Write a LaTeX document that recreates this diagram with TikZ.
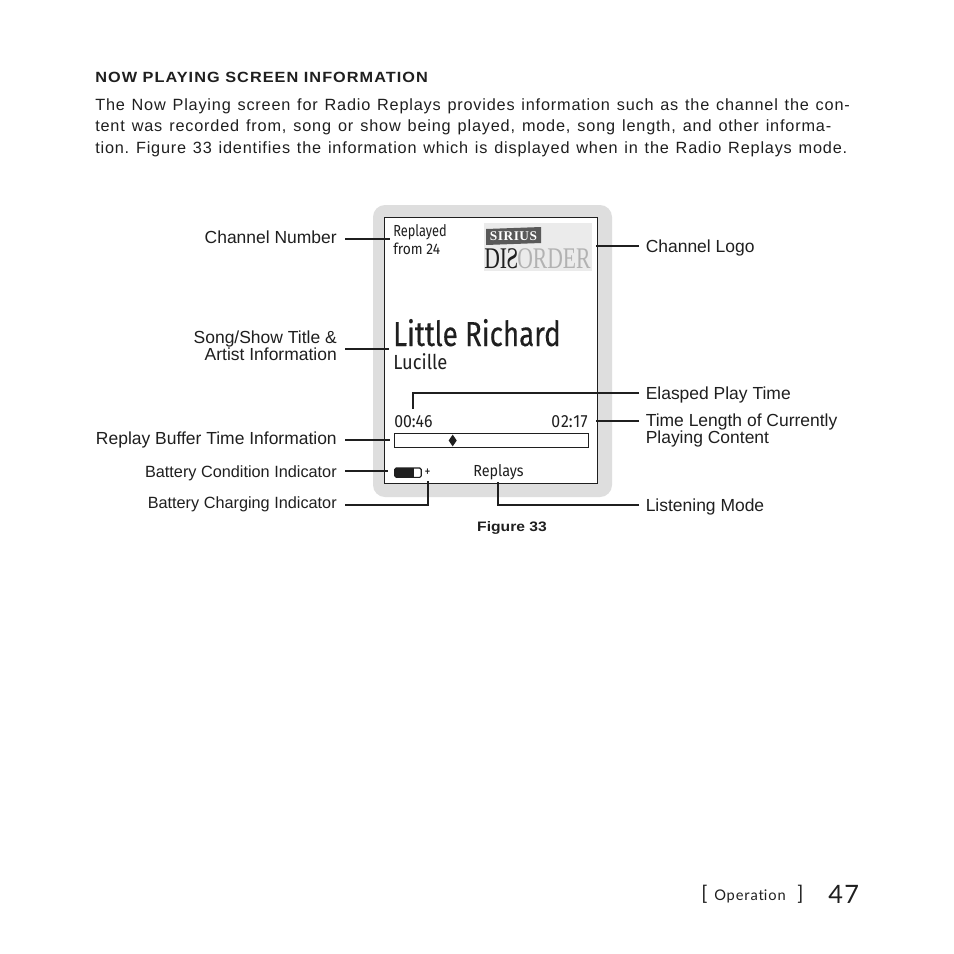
\documentclass[tikz,border=0pt]{standalone}
\usepackage{fontspec}
\setmainfont{Liberation Sans}
\newfontfamily\bodyf[LetterSpace=5]{Liberation Sans}
\newfontfamily\headf[LetterSpace=7,FakeStretch=1.1]{Liberation Sans}
\newfontfamily\figf[FakeStretch=1.14]{Liberation Sans}
\newfontfamily\pagef[LetterSpace=6]{Lato}
\newfontfamily\screenf[FakeStretch=0.8]{Fira Sans}
\newfontfamily\screenw[FakeStretch=0.9]{Fira Sans}
\newfontfamily\titlef[FakeStretch=0.8,FakeBold=0.25]{Fira Sans}
\newfontfamily\logof[LetterSpace=4]{Liberation Serif}
\newfontfamily\logon[FakeStretch=0.72]{Liberation Serif}
\usetikzlibrary{shapes.geometric}
\definecolor{bezel}{gray}{0.87}
\definecolor{ink}{gray}{0.12}
\tikzset{
  x=0.75pt,y=-0.75pt,
  lead/.style={draw=ink,line width=1.3pt},
  leftlabel/.style={anchor=base east,inner sep=0,align=right,font=\fontsize{13.1}{13.1}\selectfont,text=ink},
  leftsmall/.style={anchor=base east,inner sep=0,align=right,font=\fontsize{12.2}{12.2}\selectfont,text=ink},
  rightlabel/.style={anchor=base west,inner sep=0,align=left,font=\fontsize{13.1}{13.1}\selectfont,text=ink},
  bodyline/.style={anchor=base west,inner sep=0,font=\bodyf\fontsize{12.2}{12.2}\selectfont\frenchspacing,text=ink},
  screentext/.style={inner sep=0,text=ink},
}
\begin{document}
\begin{tikzpicture}
\useasboundingbox (0,0) rectangle (954,954);
\fill[white] (0,0) rectangle (954,954);
% page text
\node[anchor=base west,inner sep=0,font=\headf\bfseries\fontsize{11.1}{11.1}\selectfont,text=ink] (head) at (95,82) {NOW PLAYING SCREEN INFORMATION};
\node[bodyline] (l1) at (95,110) {\hbox to 566pt{The Now Playing screen for Radio Replays provides information such as the channel the con-}};
\node[bodyline] (l2) at (95,131.5) {\hbox to 552pt{tent was recorded from, song or show being played, mode, song length, and other informa-}};
\node[bodyline] (l3) at (95,153.5) {\hbox to 564pt{tion. Figure 33 identifies the information which is displayed when in the Radio Replays mode.}};
% device
\fill[bezel,rounded corners=9pt] (373,205) rectangle (612,497);
\node[draw=ink,fill=white,line width=0.6pt,inner sep=0,minimum width=159.5pt,minimum height=199.5pt] (screen) at (491,350) {};
% logo
\fill[gray!16] (484,223) rectangle (592,271);
\fill[gray!70!black] (486,229) -- (541,227) -- (541,243) -- (486,245) -- cycle;
\node[screentext,text=white,font=\logof\bfseries\fontsize{10}{10}\selectfont] (sirius) at (513.5,236.5) {SIRIUS};
\node[inner sep=0,anchor=base west,font=\logon\fontsize{22.5}{22.5}\selectfont,text=ink] (dis) at (484,268) {DI\kern-0.5pt\scalebox{-1}[1]{S}};
\node[inner sep=0,anchor=base west,font=\logon\fontsize{22.5}{22.5}\selectfont,text=gray!60] (order) at (517,268) {ORDER};
% screen text
\node[screentext,anchor=base west,font=\screenf\fontsize{12}{12}\selectfont] (rep) at (393,236) {Replayed};
\node[screentext,anchor=base west,font=\screenw\fontsize{11.5}{11.5}\selectfont] (from) at (393,254) {from 24};
\node[screentext,anchor=base west,font=\titlef\fontsize{26}{26}\selectfont] (title) at (393,346) {Little Richard};
\node[screentext,anchor=base west,font=\screenw\fontsize{15.3}{15.3}\selectfont] (luc) at (393,369) {Lucille};
\node[screentext,anchor=base west,font=\screenw\fontsize{13.2}{13.2}\selectfont] (t1) at (394,427) {00:46};
\node[screentext,anchor=base east,font=\screenw\fontsize{13.2}{13.2}\selectfont] (t2) at (588,427) {0\kern0.6pt2:\kern0.4pt1\kern0.4pt7};
\node[draw=ink,fill=white,line width=0.6pt,inner sep=0,minimum width=145.5pt,minimum height=10.5pt] (bar) at (491.5,440.5) {};
\node[diamond,fill=ink,inner sep=0,minimum width=6.2pt,minimum height=9pt,aspect=1] (dia) at (452.7,440.5) {};
% battery
\node[draw=ink,fill=white,line width=0.9pt,inner sep=0,minimum width=20pt,minimum height=7pt,rounded corners=1.2pt] (batt) at (408,472.7) {};
\fill[ink] (394.5,468) rectangle (414,477.4);
\node[screentext,font=\screenf\fontsize{11}{11}\selectfont] (plus) at (427.5,473) {+};
\node[screentext,anchor=base west,font=\screenw\fontsize{12}{12}\selectfont] (mode) at (473,476) {Replays};
% labels
\node[leftlabel] (n1) at (337,243) {Channel Number};
\node[leftlabel] (n2a) at (337,343) {Song/Show Title \&};
\node[leftlabel] (n2b) at (337,360) {Artist Information};
\node[leftlabel] (n3) at (337,444) {Replay Buffer Time Information};
\node[leftsmall] (n4) at (337,477) {Battery Condition Indicator};
\node[leftsmall] (n5) at (337,508) {Battery Charging Indicator};
\node[rightlabel] (r1) at (645.5,252) {Channel Logo};
\node[rightlabel] (r2) at (645.5,399) {Elasped Play Time};
\node[rightlabel] (r3a) at (645.5,426) {Time Length of Currently};
\node[rightlabel] (r3b) at (645.5,443) {Playing Content};
\node[rightlabel] (r4) at (645.5,511) {Listening Mode};
\node[inner sep=0,font=\figf\bfseries\fontsize{10.3}{10.3}\selectfont,text=ink] (fig) at (512,528) {Figure 33};
% page number
\node[inner sep=0,anchor=base west,font=\pagef\fontsize{15}{15}\selectfont,text=ink] (bo) at (701,900) {[};
\node[inner sep=0,anchor=base west,font=\pagef\fontsize{11}{11}\selectfont,text=ink] (op) at (714,900) {Operat\kern0pt ion};
\node[inner sep=0,anchor=base west,font=\pagef\fontsize{15}{15}\selectfont,text=ink] (bc) at (797,900) {]};
\node[inner sep=0,anchor=base west,font=\pagef\fontsize{19}{19}\selectfont,text=ink] (num) at (828,903) {47};
% leader end points
\coordinate (a1) at (345,239); \coordinate (b1) at (390,239);
\coordinate (a2) at (345,349); \coordinate (b2) at (389,349);
\coordinate (a3) at (345,440); \coordinate (b3) at (390,440);
\coordinate (a4) at (345,471); \coordinate (b4) at (388,471);
\coordinate (a5) at (345,505); \coordinate (c5) at (428,505); \coordinate (b5) at (428,481);
\coordinate (a6) at (639,246); \coordinate (b6) at (596,246);
\coordinate (a7) at (639,393); \coordinate (c7) at (413,393); \coordinate (b7) at (413,409);
\coordinate (a8) at (639,421); \coordinate (b8) at (596,421);
\coordinate (a9) at (639,505); \coordinate (c9) at (498,505); \coordinate (b9) at (498,482);
\draw[lead,line width=1.8pt] (a1) -- (b1);
\draw[lead] (a2) -- (b2);
\draw[lead] (a3) -- (b3);
\draw[lead] (a4) -- (b4);
\draw[lead] (a5) -- (c5) -- (b5);
\draw[lead] (a6) -- (b6);
\draw[lead] (a7) -- (c7) -- (b7);
\draw[lead] (a8) -- (b8);
\draw[lead] (a9) -- (c9) -- (b9);
\end{tikzpicture}
\end{document}
